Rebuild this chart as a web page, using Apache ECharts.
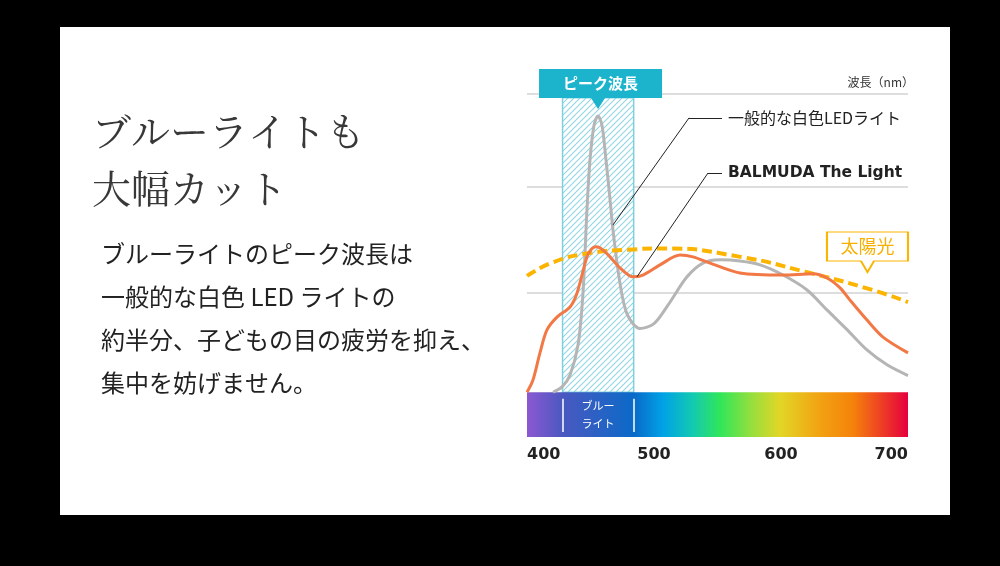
<!DOCTYPE html>
<html><head><meta charset="utf-8">
<script src="https://cdn.jsdelivr.net/npm/echarts@6/dist/echarts.min.js"></script>
<style>html,body{margin:0;padding:0;background:#000;}#c{width:1000px;height:566px;}</style>
</head><body><div id="c"></div>
<script>
// ---- data ----
const xTicks = [400, 500, 600, 700];
const ledWave  = [420.5,427.6,433.9,440.2,444.1,447.2,449.6,452.8,455.9,459,462.2,465.4,467.7,473.2,479,489,500,511,526,538.6,552,567.7,583.5,601.6,620.5,636.2,652,667.7,683.5,700];
const ledValue = [0,1.8,5.8,15.9,33.3,61.1,77.9,89.6,92.6,89.6,77.9,64.5,54.4,36.6,26.0,21.4,23.0,29.2,38.7,43.3,44.4,44,42.7,39.3,34.3,27.6,21,14.2,9.2,5.6];
const balWave  = [400,404.7,410.2,415.7,423.6,433.9,439.4,447.2,450.8,454,457.5,461,465.4,473.2,483.5,491.3,504.7,520.5,530.7,544.1,567.7,601.6,625.2,636.2,646.5,654.3,667.7,680.3,700];
const balValue = [0,4.1,13.2,20.9,25.2,28.6,33.3,45.4,48,48.8,48.4,47.2,45.4,41.7,38.7,39.3,42.7,46,45.4,43.3,40,39.3,39.7,38.3,35,30.9,24.2,18.5,13.2];
const sunWave  = [400,420,447,480,510,568,620,672,700];
const sunValue = [39,43.5,46.5,47.8,48.2,45.4,40.3,34.3,30.2];
const gridLevels = [100, 68.8, 33.3];
const blueBand = [428, 484];
const seriesNames = ['一般的な白色LEDライト', 'BALMUDA The Light', '太陽光'];

const JP = "'Noto Sans CJK JP', 'Noto Sans', sans-serif";
const zip = (a, b) => a.map((v, i) => [v, b[i]]);

// hatch pattern
const hatch = document.createElement('canvas');
hatch.width = 6; hatch.height = 6;
const hc = hatch.getContext('2d');
hc.fillStyle = '#ffffff'; hc.fillRect(0, 0, 6, 6);
hc.strokeStyle = '#92d6e4'; hc.lineWidth = 1.1;
hc.beginPath();
hc.moveTo(0, 6); hc.lineTo(6, 0);
hc.moveTo(-1, 1); hc.lineTo(1, -1);
hc.moveTo(5, 7); hc.lineTo(7, 5);
hc.stroke();

const spectrum = new echarts.graphic.LinearGradient(0, 0, 1, 0, [
  {offset: 0, color: '#8c58d2'},
  {offset: 0.094, color: '#4a58c0'},
  {offset: 0.281, color: '#0a6ac8'},
  {offset: 0.357, color: '#00a2e6'},
  {offset: 0.436, color: '#14cab0'},
  {offset: 0.507, color: '#30e65a'},
  {offset: 0.593, color: '#9ade3c'},
  {offset: 0.664, color: '#e2d626'},
  {offset: 0.769, color: '#f2a212'},
  {offset: 0.856, color: '#f5820a'},
  {offset: 1, color: '#e6003e'}
]);

const chart = echarts.init(document.getElementById('c'));
chart.setOption({
  animation: false,
  backgroundColor: '#000',
  title: {
    text: '波長（nm）', right: 86, top: 76, padding: 0,
    textStyle: {fontSize: 12, fontWeight: 'normal', color: '#333', fontFamily: JP}
  },
  graphic: [
    {type: 'rect', z: -10, shape: {x: 60, y: 27, width: 890, height: 488}, style: {fill: '#fff'}},
    {type: 'text', x: 92, y: 102.5, style: {
      text: 'ブルーライトも\n大幅カット', fill: '#383838', fontSize: 39, lineHeight: 57,
      fontFamily: "'Noto Serif CJK JP', 'Noto Sans CJK JP', serif", verticalAlign: 'top', align: 'left'}},
    {type: 'text', x: 101, y: 232.5, style: {
      text: 'ブルーライトのピーク波長は\n一般的な白色 LED ライトの\n約半分、子どもの目の疲労を抑え、\n集中を妨げません。',
      fill: '#222', fontSize: 24, lineHeight: 43, fontFamily: JP, verticalAlign: 'top', align: 'left'}}
  ],
  grid: {left: 527, right: 92, top: 64.17, bottom: 129},
  xAxis: {
    type: 'value', min: xTicks[0], max: xTicks[xTicks.length - 1], interval: 100,
    axisLine: {show: false}, axisTick: {show: false}, splitLine: {show: false},
    axisLabel: {margin: 10, fontSize: 16, fontWeight: 'bold', color: '#222', fontFamily: "'DejaVu Sans', sans-serif",
      alignMinLabel: 'left', alignMaxLabel: 'right'}
  },
  yAxis: {type: 'value', min: -15, max: 110, show: false},
  series: [
    {
      type: 'line', data: [], silent: true, clip: false,
      markLine: {
        silent: true, z: 0, symbol: 'none', animation: false, label: {show: false},
        lineStyle: {color: '#dddddd', width: 2, type: 'solid'},
        data: gridLevels.map(v => ({yAxis: v}))
      },
      markArea: {
        silent: true, z: 1, animation: false,
        data: [
          [{coord: [blueBand[0], 0], itemStyle: {color: {image: hatch, repeat: 'repeat'}, borderColor: '#7fd0de', borderWidth: 1.5}},
           {coord: [blueBand[1], 98.7]}],
          [{coord: [xTicks[0], -15], itemStyle: {color: spectrum}}, {coord: [xTicks[3], 0]}]
        ]
      }
    },
    {
      name: seriesNames[0], type: 'line', data: zip(ledWave, ledValue), smooth: 0.3, symbol: 'none',
      lineStyle: {color: '#b5b5b5', width: 3}, z: 2
    },
    {
      name: seriesNames[2], type: 'line', data: zip(sunWave, sunValue), smooth: 0.5, symbol: 'none',
      lineStyle: {color: '#fbb400', width: 4, type: [10, 5]}, z: 3
    },
    {
      name: seriesNames[1], type: 'line', data: zip(balWave, balValue), smooth: 0.3, symbol: 'none',
      lineStyle: {color: '#f27845', width: 3}, z: 4
    },
    {
      type: 'line', data: [], silent: true, clip: false,
      markLine: {
        silent: true, z: 6, symbol: 'none', animation: false,
        label: {show: false},
        lineStyle: {color: '#222', width: 1, type: 'solid'},
        data: [
          [{coord: [467.7, 56.1]}, {coord: [527.6, 92]}],
          [{coord: [527.6, 92], label: {show: true, position: 'end', distance: 6, formatter: seriesNames[0], color: '#222', fontSize: 16, fontFamily: JP}},
           {coord: [553.5, 92], label: {show: true, position: 'end', distance: 6, formatter: seriesNames[0], color: '#222', fontSize: 16, fontFamily: JP}}],
          [{coord: [486.6, 38.7]}, {coord: [542.5, 73.5]}],
          [{coord: [542.5, 73.5], label: {show: true, position: 'end', distance: 6, formatter: seriesNames[1], color: '#222', fontSize: 15.5, fontWeight: 'bold', fontFamily: "'DejaVu Sans', sans-serif"}},
           {coord: [553.5, 73.5], label: {show: true, position: 'end', distance: 6, formatter: seriesNames[1], color: '#222', fontSize: 15.5, fontWeight: 'bold', fontFamily: "'DejaVu Sans', sans-serif"}}],
          [{coord: [blueBand[0], -2.2], lineStyle: {color: '#fff', width: 1.5}}, {coord: [blueBand[0], -13.3]}],
          [{coord: [blueBand[1], -2.2], lineStyle: {color: '#fff', width: 1.5}}, {coord: [blueBand[1], -13.3]}]
        ]
      },
      markPoint: {
        z: 7, silent: true, animation: false,
        data: [
          {coord: [457.9, 101.7], symbol: 'path://M0,0H123V29H66L59,40L52,29H0Z', symbolSize: [123, 40],
           itemStyle: {color: '#1cb4cc'},
           label: {show: true, position: 'inside', offset: [0, -5.5], formatter: 'ピーク波長', color: '#fff', fontSize: 15, fontWeight: 'bold', fontFamily: JP}},
          {coord: [668.1, 47], symbol: 'path://M0,0H81V29H47L40.5,40L34,29H0Z', symbolSize: [81, 40],
           itemStyle: {color: '#fff', borderColor: '#fbb400', borderWidth: 1.5},
           label: {show: true, position: 'inside', offset: [0, -5.5], formatter: seriesNames[2], color: '#f8b000', fontSize: 18, fontFamily: JP}},
          {coord: [456, -7.6], symbol: 'circle', symbolSize: 1, itemStyle: {color: 'rgba(0,0,0,0)'},
           label: {show: true, position: 'inside', formatter: 'ブルー\nライト', color: '#fff', fontSize: 11, lineHeight: 18, fontFamily: JP}}
        ]
      }
    }
  ]
});
</script></body></html>
